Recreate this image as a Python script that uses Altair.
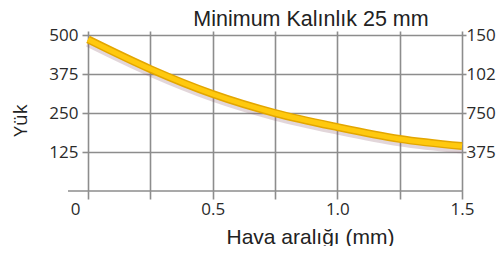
import altair as alt
import pandas as pd

# ---- data ----
gap = [0, 0.25, 0.5, 0.75, 1.0, 1.25, 1.5]
load = [486, 391, 311, 250, 205, 167, 144]

y_ticks = [125, 250, 375, 500]
right_labels = ["375", "750", "102", "150"]
x_ticks = [0, 0.25, 0.5, 0.75, 1.0, 1.25, 1.5]
x_labels = ["0", "", "0.5", "", "1.0", "", "1.5"]

chart_title = ["Minimum Kalınlık 25 mm"]
x_title = "Hava aralığı (mm)"
y_title = "Yük"

df = pd.DataFrame({"gap": gap, "load": load})


def chain(keys, labels):
    expr = "''"
    for k, l in zip(reversed(keys), reversed(labels)):
        expr = f"datum.value == {k} ? '{l}' : ({expr})"
    return expr


GRID = "#8d8d8d"
LBL = dict(labelFont="Open Sans", labelFontSize=17, labelColor="#2a2a2a")
x_scale = alt.Scale(domain=[0, 1.5], nice=False, zero=False)
y_scale = alt.Scale(domain=[0, 513], nice=False)

x_axis = alt.Axis(
    values=x_ticks,
    labelExpr=chain(x_ticks, x_labels),
    labelAlign={"condition": {"test": "datum.value == 0", "value": "right"}, "value": "center"},
    labelOffset={"condition": {"test": "datum.value == 0", "value": -8}, "value": 0},
    grid=True,
    gridColor=GRID,
    gridWidth=1.6,
    domain=False,
    ticks=True,
    tickSize=8,
    tickColor=GRID,
    tickWidth=1.6,
    labelPadding=2,
    labelFlush=False,
    labelOverlap=False,
    title=x_title,
    titleX=222,
    titleY=52,
    titleAlign="center",
    titleBaseline="alphabetic",
    titleFont="Liberation Sans",
    titleFontSize=21,
    titleFontWeight="normal",
    titleColor="#222",
    **LBL,
)


def xe():
    return alt.X("gap:Q", scale=x_scale, axis=x_axis)


y_left = alt.Y(
    "load:Q",
    scale=y_scale,
    axis=alt.Axis(
        values=y_ticks,
        orient="left",
        grid=True,
        gridColor=GRID,
        gridWidth=1.6,
        domain=False,
        tickSize=6,
        tickColor=GRID,
        tickWidth=1.6,
        labelPadding=4,
        title=y_title,
        titleAngle=270,
        titleX=-62,
        titleY=89,
        titleAlign="center",
        titleBaseline="alphabetic",
        titleFont="Open Sans",
        titleFontSize=19,
        titleFontWeight="normal",
        titleColor="#222",
        **LBL,
    ),
)

y_right = alt.Y(
    "load:Q",
    scale=y_scale,
    axis=alt.Axis(
        values=y_ticks,
        orient="right",
        labelExpr=chain(y_ticks, right_labels),
        grid=False,
        domain=False,
        tickSize=4,
        tickColor=GRID,
        tickWidth=1.6,
        labelPadding=0,
        title=None,
        **LBL,
    ),
)

shadow = alt.Chart(df).mark_line(
    color="#8a5a6a", opacity=0.25, strokeWidth=9, interpolate="monotone", yOffset=3
).encode(x=xe(), y=y_left)

edge = alt.Chart(df).mark_line(
    color="#E3A600", strokeWidth=8, interpolate="monotone"
).encode(x=xe(), y=y_right)

core = alt.Chart(df).mark_line(
    color="#FFC90E", strokeWidth=5, interpolate="monotone"
).encode(x=xe(), y=alt.Y("load:Q", scale=y_scale, axis=None))

baseline = alt.Chart(pd.DataFrame({"load": [0]})).mark_rule(
    color=GRID, strokeWidth=1.6
).encode(
    y=alt.Y("load:Q", scale=y_scale, axis=None),
    x=alt.value(-20),
    x2=alt.value(375),
)

title_txt = alt.Chart(pd.DataFrame({"t": chart_title})).mark_text(
    font="Liberation Sans", fontSize=21.5, color="#222", align="center", baseline="alphabetic"
).encode(text="t:N", x=alt.value(223), y=alt.value(-5))

chart = (
    alt.layer(shadow, edge, core, baseline, title_txt)
    .resolve_axis(y="independent")
    .properties(
        width=374,
        height=160,
        padding={"left": 80, "top": 23, "right": 34, "bottom": 55},
        autosize=alt.AutoSizeParams(type="none"),
        background="white",
    )
    .configure_view(stroke=None)
)

chart.save("out.html", embed_options={"renderer": "svg", "actions": False})
